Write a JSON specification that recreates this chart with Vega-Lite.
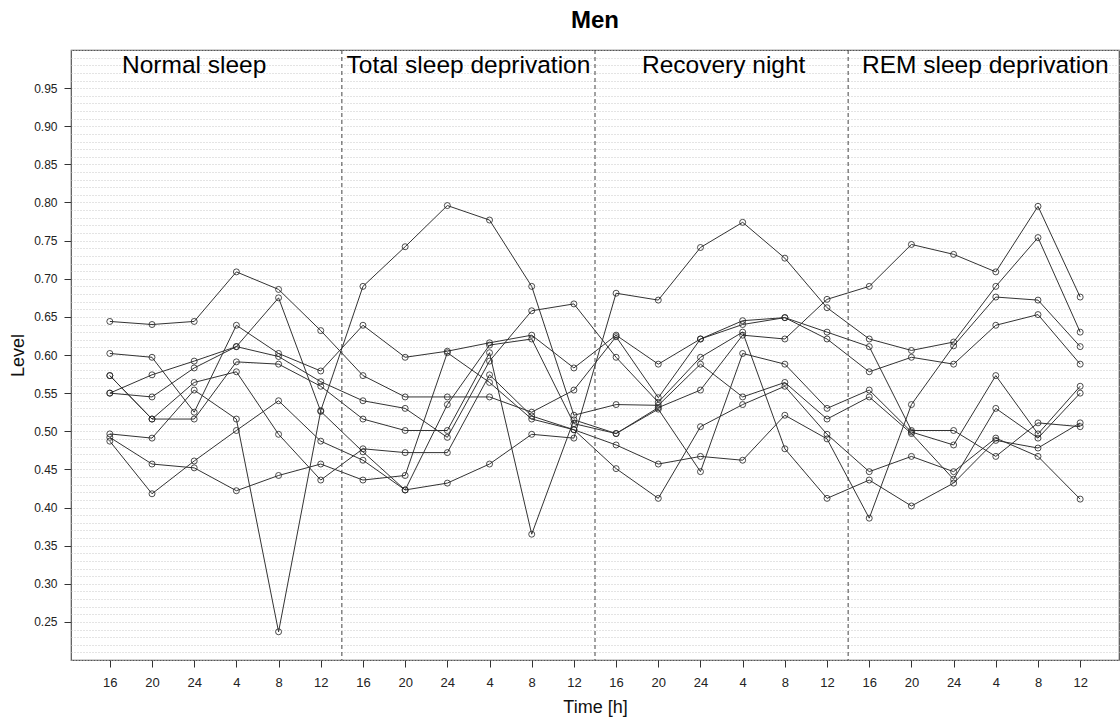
{
  "$schema": "https://vega.github.io/schema/vega-lite/v6.json",
  "width": 1048,
  "height": 610,
  "autosize": {"type": "none"},
  "padding": {"left": 71, "top": 50, "right": 1, "bottom": 62},
  "title": {"text": "Men", "fontSize": 24, "font": "Liberation Sans", "fontWeight": "bold", "color": "#000", "anchor": "middle", "offset": 11},
  "config": {
    "view": {"stroke": "#555", "strokeWidth": 1.2},
    "font": "Liberation Sans"
  },
  "datasets": {
    "levels": [
      {"s":"A","t":1,"v":0.644},{"s":"A","t":2,"v":0.640},{"s":"A","t":3,"v":0.644},{"s":"A","t":4,"v":0.709},{"s":"A","t":5,"v":0.686},{"s":"A","t":6,"v":0.632},{"s":"A","t":7,"v":0.573},{"s":"A","t":8,"v":0.545},{"s":"A","t":9,"v":0.545},{"s":"A","t":10,"v":0.545},{"s":"A","t":11,"v":0.525},{"s":"A","t":12,"v":0.554},{"s":"A","t":13,"v":0.624},{"s":"A","t":14,"v":0.544},{"s":"A","t":15,"v":0.621},{"s":"A","t":16,"v":0.640},{"s":"A","t":17,"v":0.649},{"s":"A","t":18,"v":0.630},{"s":"A","t":19,"v":0.611},{"s":"A","t":20,"v":0.501},{"s":"A","t":21,"v":0.501},{"s":"A","t":22,"v":0.467},{"s":"A","t":23,"v":0.511},{"s":"A","t":24,"v":0.506},
      {"s":"B","t":1,"v":0.602},{"s":"B","t":2,"v":0.597},{"s":"B","t":3,"v":0.525},{"s":"B","t":4,"v":0.639},{"s":"B","t":5,"v":0.602},{"s":"B","t":6,"v":0.579},{"s":"B","t":7,"v":0.639},{"s":"B","t":8,"v":0.597},{"s":"B","t":9,"v":0.605},{"s":"B","t":10,"v":0.616},{"s":"B","t":11,"v":0.626},{"s":"B","t":12,"v":0.583},{"s":"B","t":13,"v":0.626},{"s":"B","t":14,"v":0.588},{"s":"B","t":15,"v":0.621},{"s":"B","t":16,"v":0.645},{"s":"B","t":17,"v":0.649},{"s":"B","t":18,"v":0.621},{"s":"B","t":19,"v":0.578},{"s":"B","t":20,"v":0.597},{"s":"B","t":21,"v":0.588},{"s":"B","t":22,"v":0.639},{"s":"B","t":23,"v":0.653},{"s":"B","t":24,"v":0.588},
      {"s":"C","t":1,"v":0.573},{"s":"C","t":2,"v":0.516},{"s":"C","t":3,"v":0.516},{"s":"C","t":4,"v":0.591},{"s":"C","t":5,"v":0.588},{"s":"C","t":6,"v":0.559},{"s":"C","t":7,"v":0.516},{"s":"C","t":8,"v":0.501},{"s":"C","t":9,"v":0.501},{"s":"C","t":10,"v":0.603},{"s":"C","t":11,"v":0.365},{"s":"C","t":12,"v":0.515},{"s":"C","t":13,"v":0.497},{"s":"C","t":14,"v":0.531},{"s":"C","t":15,"v":0.554},{"s":"C","t":16,"v":0.626},{"s":"C","t":17,"v":0.621},{"s":"C","t":18,"v":0.673},{"s":"C","t":19,"v":0.690},{"s":"C","t":20,"v":0.745},{"s":"C","t":21,"v":0.732},{"s":"C","t":22,"v":0.709},{"s":"C","t":23,"v":0.795},{"s":"C","t":24,"v":0.676},
      {"s":"D","t":1,"v":0.573},{"s":"D","t":2,"v":0.516},{"s":"D","t":3,"v":0.564},{"s":"D","t":4,"v":0.578},{"s":"D","t":5,"v":0.496},{"s":"D","t":6,"v":0.436},{"s":"D","t":7,"v":0.477},{"s":"D","t":8,"v":0.472},{"s":"D","t":9,"v":0.472},{"s":"D","t":10,"v":0.574},{"s":"D","t":11,"v":0.520},{"s":"D","t":12,"v":0.502},{"s":"D","t":13,"v":0.482},{"s":"D","t":14,"v":0.457},{"s":"D","t":15,"v":0.467},{"s":"D","t":16,"v":0.462},{"s":"D","t":17,"v":0.521},{"s":"D","t":18,"v":0.490},{"s":"D","t":19,"v":0.386},{"s":"D","t":20,"v":0.535},{"s":"D","t":21,"v":0.612},{"s":"D","t":22,"v":0.676},{"s":"D","t":23,"v":0.672},{"s":"D","t":24,"v":0.611},
      {"s":"E","t":1,"v":0.550},{"s":"E","t":2,"v":0.574},{"s":"E","t":3,"v":0.592},{"s":"E","t":4,"v":0.611},{"s":"E","t":5,"v":0.675},{"s":"E","t":6,"v":0.526},{"s":"E","t":7,"v":0.473},{"s":"E","t":8,"v":0.423},{"s":"E","t":9,"v":0.535},{"s":"E","t":10,"v":0.613},{"s":"E","t":11,"v":0.621},{"s":"E","t":12,"v":0.510},{"s":"E","t":13,"v":0.497},{"s":"E","t":14,"v":0.529},{"s":"E","t":15,"v":0.447},{"s":"E","t":16,"v":0.602},{"s":"E","t":17,"v":0.588},{"s":"E","t":18,"v":0.530},{"s":"E","t":19,"v":0.554},{"s":"E","t":20,"v":0.499},{"s":"E","t":21,"v":0.482},{"s":"E","t":22,"v":0.573},{"s":"E","t":23,"v":0.4965},{"s":"E","t":24,"v":0.559},
      {"s":"F","t":1,"v":0.550},{"s":"F","t":2,"v":0.545},{"s":"F","t":3,"v":0.583},{"s":"F","t":4,"v":0.611},{"s":"F","t":5,"v":0.598},{"s":"F","t":6,"v":0.565},{"s":"F","t":7,"v":0.540},{"s":"F","t":8,"v":0.530},{"s":"F","t":9,"v":0.492},{"s":"F","t":10,"v":0.592},{"s":"F","t":11,"v":0.658},{"s":"F","t":12,"v":0.667},{"s":"F","t":13,"v":0.597},{"s":"F","t":14,"v":0.538},{"s":"F","t":15,"v":0.597},{"s":"F","t":16,"v":0.630},{"s":"F","t":17,"v":0.477},{"s":"F","t":18,"v":0.412},{"s":"F","t":19,"v":0.436},{"s":"F","t":20,"v":0.402},{"s":"F","t":21,"v":0.432},{"s":"F","t":22,"v":0.488},{"s":"F","t":23,"v":0.478},{"s":"F","t":24,"v":0.511},
      {"s":"G","t":1,"v":0.4965},{"s":"G","t":2,"v":0.491},{"s":"G","t":3,"v":0.554},{"s":"G","t":4,"v":0.516},{"s":"G","t":5,"v":0.237},{"s":"G","t":6,"v":0.527},{"s":"G","t":7,"v":0.690},{"s":"G","t":8,"v":0.742},{"s":"G","t":9,"v":0.796},{"s":"G","t":10,"v":0.777},{"s":"G","t":11,"v":0.690},{"s":"G","t":12,"v":0.521},{"s":"G","t":13,"v":0.535},{"s":"G","t":14,"v":0.534},{"s":"G","t":15,"v":0.588},{"s":"G","t":16,"v":0.545},{"s":"G","t":17,"v":0.564},{"s":"G","t":18,"v":0.516},{"s":"G","t":19,"v":0.545},{"s":"G","t":20,"v":0.497},{"s":"G","t":21,"v":0.437},{"s":"G","t":22,"v":0.530},{"s":"G","t":23,"v":0.491},{"s":"G","t":24,"v":0.550},
      {"s":"H","t":1,"v":0.492},{"s":"H","t":2,"v":0.457},{"s":"H","t":3,"v":0.452},{"s":"H","t":4,"v":0.422},{"s":"H","t":5,"v":0.442},{"s":"H","t":6,"v":0.457},{"s":"H","t":7,"v":0.436},{"s":"H","t":8,"v":0.442},{"s":"H","t":9,"v":0.603},{"s":"H","t":10,"v":0.564},{"s":"H","t":11,"v":0.516},{"s":"H","t":12,"v":0.502},{"s":"H","t":13,"v":0.451},{"s":"H","t":14,"v":0.412},{"s":"H","t":15,"v":0.506},{"s":"H","t":16,"v":0.535},{"s":"H","t":17,"v":0.559},{"s":"H","t":18,"v":0.496},{"s":"H","t":19,"v":0.447},{"s":"H","t":20,"v":0.467},{"s":"H","t":21,"v":0.447},{"s":"H","t":22,"v":0.491},{"s":"H","t":23,"v":0.467},{"s":"H","t":24,"v":0.411},
      {"s":"I","t":1,"v":0.487},{"s":"I","t":2,"v":0.418},{"s":"I","t":3,"v":0.461},{"s":"I","t":4,"v":0.501},{"s":"I","t":5,"v":0.540},{"s":"I","t":6,"v":0.487},{"s":"I","t":7,"v":0.462},{"s":"I","t":8,"v":0.423},{"s":"I","t":9,"v":0.432},{"s":"I","t":10,"v":0.457},{"s":"I","t":11,"v":0.496},{"s":"I","t":12,"v":0.491},{"s":"I","t":13,"v":0.681},{"s":"I","t":14,"v":0.672},{"s":"I","t":15,"v":0.741},{"s":"I","t":16,"v":0.774},{"s":"I","t":17,"v":0.727},{"s":"I","t":18,"v":0.662},{"s":"I","t":19,"v":0.621},{"s":"I","t":20,"v":0.606},{"s":"I","t":21,"v":0.617},{"s":"I","t":22,"v":0.690},{"s":"I","t":23,"v":0.754},{"s":"I","t":24,"v":0.630}
    ],
    "phases": [
      {"label": "Normal sleep", "xc": 3.0, "yc": 0.979},
      {"label": "Total sleep deprivation", "xc": 9.5, "yc": 0.979},
      {"label": "Recovery night", "xc": 15.55, "yc": 0.979},
      {"label": "REM sleep deprivation", "xc": 21.75, "yc": 0.979}
    ],
    "dividers": [{"b": 6.5}, {"b": 12.5}, {"b": 18.5}]
  },
  "layer": [
    {
      "data": {"name": "levels"},
      "mark": {"type": "line", "stroke": "#333", "strokeWidth": 1, "clip": true},
      "encoding": {
        "x": {"field": "t", "type": "quantitative",
          "scale": {"domain": [0.08, 24.92], "nice": false, "zero": false},
          "axis": {"values": [1,2,3,4,5,6,7,8,9,10,11,12,13,14,15,16,17,18,19,20,21,22,23,24],
            "tickCount": 100,
            "labelExpr": "['16','20','24','4','8','12'][(datum.value - 1) % 6]",
            "grid": false, "domain": false, "tickSize": 7, "tickColor": "#333", "labelFontSize": 13, "labelColor": "#222",
            "labelPadding": 9, "labelFont": "Liberation Sans",
            "title": "Time [h]", "titleFontSize": 18, "titleFontWeight": "normal", "titleColor": "#111", "titleFont": "Liberation Sans", "titlePadding": 9}},
        "y": {"field": "v", "type": "quantitative",
          "scale": {"domain": [0.2, 1.0], "nice": false, "zero": false},
          "axis": {"values": [0.2,0.21,0.22,0.23,0.24,0.25,0.26,0.27,0.28,0.29,0.3,0.31,0.32,0.33,0.34,0.35,0.36,0.37,0.38,0.39,0.4,0.41,0.42,0.43,0.44,0.45,0.46,0.47,0.48,0.49,0.5,0.51,0.52,0.53,0.54,0.55,0.56,0.57,0.58,0.59,0.6,0.61,0.62,0.63,0.64,0.65,0.66,0.67,0.68,0.69,0.7,0.71,0.72,0.73,0.74,0.75,0.76,0.77,0.78,0.79,0.8,0.81,0.82,0.83,0.84,0.85,0.86,0.87,0.88,0.89,0.9,0.91,0.92,0.93,0.94,0.95,0.96,0.97,0.98,0.99,1.0],
            "tickCount": 200,
            "labelOverlap": false,
            "format": ".2f",
            "labelExpr": "(abs(datum.value*20 - round(datum.value*20)) < 0.001 && datum.value > 0.21 && datum.value < 0.99) ? datum.label : ''",
            "tickOpacity": {"condition": {"test": "abs(datum.value*20 - round(datum.value*20)) < 0.001 && datum.value > 0.21 && datum.value < 0.99", "value": 1}, "value": 0},
            "grid": true, "gridColor": "#c8c8c8", "gridDash": [1, 2], "gridWidth": 1,
            "domain": false, "tickSize": 7, "tickColor": "#333", "labelFontSize": 12, "labelColor": "#222", "labelPadding": 7, "labelFont": "Liberation Sans",
            "title": "Level", "titleFontSize": 18, "titleFontWeight": "normal", "titleColor": "#111", "titleFont": "Liberation Sans", "titlePadding": 6}},
        "detail": {"field": "s"},
        "order": {"field": "t"}
      }
    },
    {
      "data": {"name": "levels"},
      "mark": {"type": "point", "shape": "circle", "filled": false, "stroke": "#222", "strokeWidth": 0.8, "size": 36, "opacity": 1},
      "encoding": {
        "x": {"field": "t", "type": "quantitative"},
        "y": {"field": "v", "type": "quantitative"}
      }
    },
    {
      "data": {"name": "dividers"},
      "mark": {"type": "rule", "stroke": "#444", "strokeWidth": 1, "strokeDash": [4, 3]},
      "encoding": {
        "x": {"field": "b", "type": "quantitative"}
      }
    },
    {
      "data": {"name": "phases"},
      "mark": {"type": "text", "fontSize": 24.5, "font": "Liberation Sans", "color": "#000", "align": "center", "baseline": "middle"},
      "encoding": {
        "x": {"field": "xc", "type": "quantitative"},
        "y": {"field": "yc", "type": "quantitative"},
        "text": {"field": "label"}
      }
    }
  ]
}
